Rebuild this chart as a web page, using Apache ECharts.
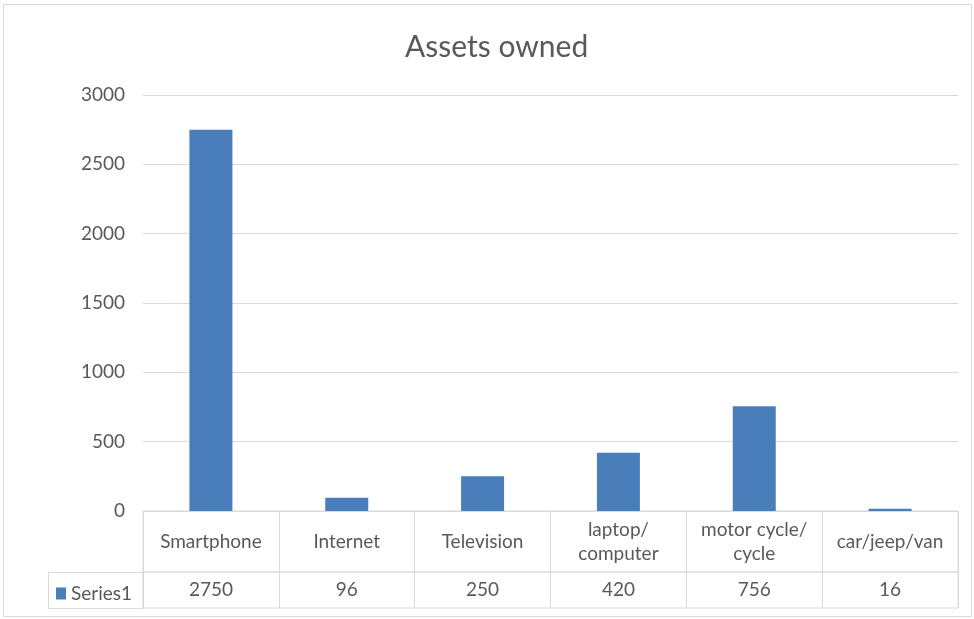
<!DOCTYPE html>
<html>
<head>
<meta charset="utf-8">
<script src="https://cdn.jsdelivr.net/npm/echarts@6/dist/echarts.min.js"></script>
<style>
  html, body { margin: 0; padding: 0; background: #fff; }
  #chart { width: 974px; height: 619px; }
</style>
</head>
<body>
<div id="chart"></div>
<script>
// data
var categories = ['Smartphone', 'Internet', 'Television', 'laptop/\ncomputer', 'motor cycle/\ncycle', 'car/jeep/van'];
var seriesName = 'Series1';
var values = [2750, 96, 250, 420, 756, 16];
var yTicks = [0, 500, 1000, 1500, 2000, 2500, 3000];

var textColor = '#595959';
var lineColor = '#d9d9d9';
var barColor = '#4a7ebb';
var font = 'Lato';

var myChart = echarts.init(document.getElementById('chart'));
var option = {
    backgroundColor: '#fff',
    animation: false,
    title: {
        text: 'Assets owned',
        left: 400,
        top: 27,
        textStyle: { fontFamily: font, fontSize: 30, fontWeight: 'normal', color: textColor }
    },
    legend: {
        data: [seriesName],
        left: 51,
        top: 579,
        icon: 'rect',
        itemWidth: 10,
        itemHeight: 12,
        itemGap: 4,
        textStyle: { fontFamily: font, fontSize: 19, color: textColor }
    },
    grid: [
        { left: 143, right: 16, top: 95, bottom: 108 },          // plot
        { left: 143, right: 16, top: 511, bottom: 47, show: true, borderColor: lineColor, borderWidth: 1 },   // category row
        { left: 143, right: 16, top: 572, bottom: 11, show: true, borderColor: lineColor, borderWidth: 1 }    // value row
    ],
    graphic: [
        // outer chart frame
        { type: 'rect', shape: { x: 3.5, y: 4.5, width: 968, height: 612 }, style: { fill: 'none', stroke: lineColor, lineWidth: 1 }, silent: true },
        // legend cell of the data table
        { type: 'rect', shape: { x: 48.5, y: 572.5, width: 94.5, height: 36 }, style: { fill: 'none', stroke: lineColor, lineWidth: 1 }, silent: true }
    ],
    xAxis: [
        {
            gridIndex: 0, type: 'category', data: categories,
            axisLine: { show: false }, axisTick: { show: false }, axisLabel: { show: false }
        },
        {
            gridIndex: 1, type: 'category', data: categories,
            axisLine: { show: false }, axisTick: { show: false },
            splitLine: { show: true, interval: 0, lineStyle: { color: lineColor } },
            axisLabel: {
                inside: true, margin: 30, interval: 0, verticalAlign: 'middle', lineHeight: 24,
                fontFamily: font, fontSize: 19, color: textColor
            }
        },
        {
            gridIndex: 2, type: 'category', data: categories,
            axisLine: { show: false }, axisTick: { show: false },
            splitLine: { show: true, interval: 0, lineStyle: { color: lineColor } },
            axisLabel: {
                inside: true, margin: 18, interval: 0, verticalAlign: 'middle',
                fontFamily: font, fontSize: 19, color: textColor,
                formatter: function (v, i) { return String(values[i]); }
            }
        }
    ],
    yAxis: [
        {
            gridIndex: 0, type: 'value',
            min: yTicks[0], max: yTicks[yTicks.length - 1], interval: yTicks[1] - yTicks[0],
            axisLine: { show: false }, axisTick: { show: false },
            axisLabel: {
                margin: 18, fontFamily: font, fontSize: 19, color: textColor,
                formatter: function (v) { return String(v); }
            },
            splitLine: { lineStyle: { color: lineColor } }
        },
        { gridIndex: 1, type: 'value', min: 0, max: 1, show: false, splitLine: { show: false } },
        { gridIndex: 2, type: 'value', min: 0, max: 1, show: false, splitLine: { show: false } }
    ],
    series: [
        {
            name: seriesName,
            type: 'bar',
            xAxisIndex: 0,
            yAxisIndex: 0,
            barWidth: 43,
            itemStyle: { color: barColor },
            data: values
        }
    ]
};
myChart.setOption(option);
</script>
</body>
</html>
